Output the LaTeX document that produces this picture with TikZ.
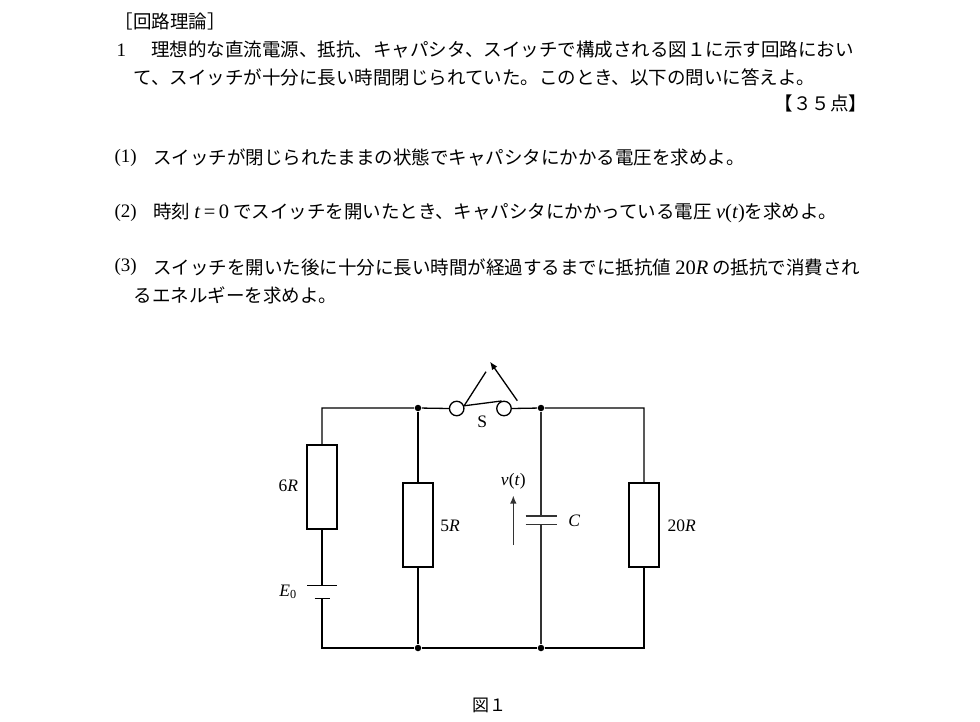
\documentclass[tikz,border=0pt]{standalone}
\usepackage{fontspec}
\setmainfont{Liberation Serif}
\newfontfamily\jp{Noto Sans CJK JP}
\usetikzlibrary{arrows.meta}

\newcommand{\vr}[1]{\textit{#1}}
\newcommand{\lat}[1]{{\rmfamily\fontsize{20.5}{20}\selectfont #1}}

\tikzset{
	jtxt/.style={anchor=west,inner sep=0pt,font=\jp\fontsize{18.5}{20}\selectfont},
	rtxt/.style={anchor=west,inner sep=0pt,font=\fontsize{19}{20}\selectfont},
	lbl/.style={inner sep=0pt,font=\fontsize{17.5}{18}\selectfont},
	resistor/.style={draw,minimum width=30pt,minimum height=84pt,inner sep=0pt},
	contact/.style={circle,draw,minimum size=14.5pt,inner sep=0pt},
	junction/.style={circle,fill,minimum size=6.5pt,inner sep=0pt},
}

\begin{document}
\begin{tikzpicture}[x=1pt,y=-1pt,line width=1.3pt]
	\useasboundingbox (0,0) rectangle (980,722);
	% problem text
	\node[jtxt] (head) at (114,21) {［回路理論］};
	\node[rtxt] (num) at (116,50) {1};
	\node[jtxt] (intro1) at (150.5,50) {理想的な直流電源、抵抗、キャパシタ、スイッチで構成される図１に示す回路におい};
	\node[jtxt] (intro2) at (133,77) {て、スイッチが十分に長い時間閉じられていた。このとき、以下の問いに答えよ。};
	\node[jtxt,anchor=east] (score) at (868,103) {【３５点】};
	\node[rtxt] (n1) at (114,158) {(1)};
	\node[jtxt] (q1) at (152.5,158) {スイッチが閉じられたままの状態でキャパシタにかかる電圧を求めよ。};
	\node[rtxt] (n2) at (114,213) {(2)};
	\node[jtxt] (q2) at (152.5,213) {時刻 \lat{\vr{t}\,=\,0} でスイッチを開いたとき、キャパシタにかかっている電圧 \lat{\vr{v}(\vr{t})}を求めよ。};
	\node[rtxt] (n3) at (114,267) {(3)};
	\node[jtxt] (q3a) at (152.5,267) {スイッチを開いた後に十分に長い時間が経過するまでに抵抗値 \lat{20\vr{R}} の抵抗で消費され};
	\node[jtxt] (q3b) at (133,295) {るエネルギーを求めよ。};

	% circuit
	\coordinate (tl) at (322,408);
	\coordinate (bl) at (322,648);
	\coordinate (tr) at (644,408);
	\coordinate (br) at (644,648);
	\node[junction] (ja) at (418,408) {};
	\node[junction] (jb) at (541,408) {};
	\node[junction] (jc) at (418,648) {};
	\node[junction] (jd) at (541,648) {};
	\node[resistor] (R6) at (322,487) {};
	\node[resistor] (R5) at (418,525) {};
	\node[resistor] (R20) at (644,525) {};
	\node[contact] (S1) at (456.7,408.5) {};
	\node[contact] (S2) at (504,408.5) {};
	\coordinate (Ep) at (322,585.5);
	\coordinate (En) at (322,598.5);
	\coordinate (Cp) at (541,516);
	\coordinate (Cn) at (541,524.5);
	\coordinate (lever) at (486,371.7);
	\coordinate (tip) at (490,361.7);
	\coordinate (tail) at (517.3,400.7);
	\coordinate (vlo) at (513.3,545);
	\coordinate (vhi) at (513.3,495.5);

	\draw (R6.north) -- (tl) -- (ja) -- (S1.west);
	\draw (S2.east) -- (jb) -- (tr) -- (R20.north);
	\draw (R20.south) -- (br) -- (jd) -- (jc) -- (bl) -- (En);
	\draw (R6.south) -- (Ep);
	\draw (ja) -- (R5.north);
	\draw (R5.south) -- (jc);
	\draw ([xshift=-15pt]Ep) -- ([xshift=15pt]Ep);
	\draw ([xshift=-7.5pt]En) -- ([xshift=7.5pt]En);
	\draw[black!80] (jb) -- (Cp);
	\draw[black!80] (Cn) -- (jd);
	\draw[black!80] ([xshift=-15.5pt]Cp) -- ([xshift=15.5pt]Cp);
	\draw[black!80] ([xshift=-15.5pt]Cn) -- ([xshift=15.5pt]Cn);
	\draw (S1.20) -- (S2.107);
	\draw (S1.20) -- (lever);
	\draw[-{Latex[length=8pt,width=6.5pt]}] (tail) -- (tip);
	\draw[black!80,-{Latex[length=8pt,width=6.5pt]}] (vlo) -- (vhi);

	% labels
	\node[lbl] (l6) at (288.3,486) {6\vr{R}};
	\node[lbl] (l5) at (450,526) {5\vr{R}};
	\node[lbl] (l20) at (681.7,526) {20\vr{R}};
	\node[lbl] (lE) at (288,592) {\vr{E}\textsubscript{0}};
	\node[lbl] (lC) at (574.3,520.5) {\vr{C}};
	\node[lbl] (lv) at (513.3,481) {\vr{v}(\vr{t})};
	\node[lbl] (lS) at (482.3,421.7) {S};
	\node[inner sep=0pt,font=\jp\fontsize{17}{18}\selectfont] (cap) at (489,705) {図１};
\end{tikzpicture}
\end{document}
